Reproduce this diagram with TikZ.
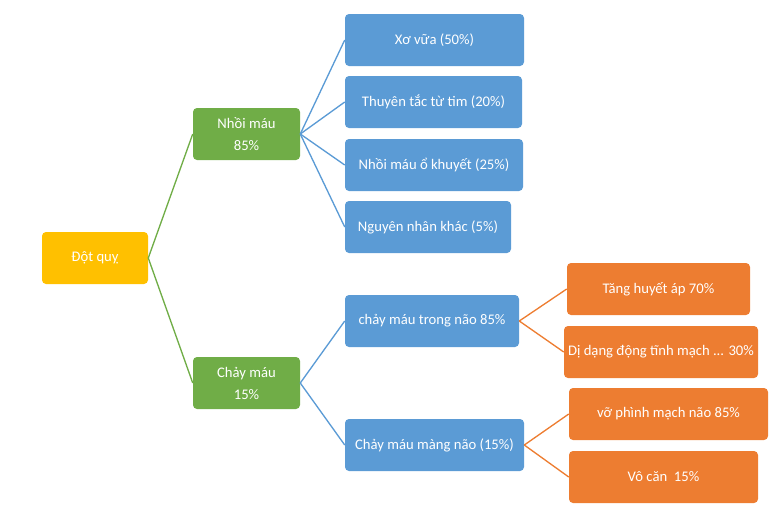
\documentclass[tikz,border=0pt]{standalone}
\usepackage{fontspec}
\setmainfont{Carlito}
\definecolor{cgold}{HTML}{FFC000}
\definecolor{cgreen}{HTML}{70AD47}
\definecolor{cblue}{HTML}{5B9BD5}
\definecolor{corange}{HTML}{ED7D31}
\begin{document}
\begin{tikzpicture}[x=0.75pt,y=-0.75pt,
  box/.style={rounded corners=3pt, text=white, align=center, inner sep=0pt,
    font=\fontsize{11}{16.5}\selectfont},
  goldbox/.style={box, fill=cgold},
  greenbox/.style={box, fill=cgreen},
  bluebox/.style={box, fill=cblue},
  orangebox/.style={box, fill=corange},
  gline/.style={draw=cgreen, line width=1pt},
  bline/.style={draw=cblue, line width=1pt},
  oline/.style={draw=corange, line width=1pt}]
\useasboundingbox (0,0) rectangle (780,508);
\node[goldbox, minimum width=106*0.75pt, minimum height=52*0.75pt] (root) at (95,258) {Đột quỵ};
\node[greenbox, minimum width=107*0.75pt, minimum height=52*0.75pt] (nm) at (246.5,134) {Nhồi máu\\85\%};
\node[greenbox, minimum width=107*0.75pt, minimum height=52*0.75pt] (cm) at (246.5,383) {Chảy máu\\15\%};
\node[bluebox, minimum width=179*0.75pt, minimum height=52*0.75pt] (b1) at (434.5,40) {Xơ vữa (50\%)};
\node[bluebox, minimum width=177*0.75pt, minimum height=52*0.75pt] (b2) at (433.5,102) {Thuyên tắc từ tim (20\%)};
\node[bluebox, minimum width=178*0.75pt, minimum height=52*0.75pt] (b3) at (434,165) {Nhồi máu ổ khuyết (25\%)};
\node[bluebox, minimum width=166*0.75pt, minimum height=52*0.75pt] (b4) at (428,227) {Nguyên nhân khác (5\%)};
\node[bluebox, minimum width=174*0.75pt, minimum height=52*0.75pt] (b5) at (432,321) {chảy máu trong não 85\%};
\node[bluebox, minimum width=179*0.75pt, minimum height=52*0.75pt] (b6) at (434.5,445) {Chảy máu màng não (15\%)};
\node[orangebox, minimum width=183*0.75pt, minimum height=52*0.75pt] (o1) at (658.5,289) {Tăng huyết áp 70\%};
\node[orangebox, minimum width=194*0.75pt, minimum height=52*0.75pt] (o2) at (661,352) {Dị dạng động tĩnh mạch ... 30\%};
\node[orangebox, minimum width=199*0.75pt, minimum height=52*0.75pt] (o3) at (668.5,414) {vỡ phình mạch não 85\%};
\node[orangebox, minimum width=189*0.75pt, minimum height=52*0.75pt] (o4) at (663.5,477) {Vô căn\ \ 15\%};
\draw[gline] (root.east) -- (nm.west);
\draw[gline] (root.east) -- (cm.west);
\draw[bline] (nm.east) -- (b1.west);
\draw[bline] (nm.east) -- (b2.west);
\draw[bline] (nm.east) -- (b3.west);
\draw[bline] (nm.east) -- (b4.west);
\draw[bline] (cm.east) -- (b5.west);
\draw[bline] (cm.east) -- (b6.west);
\draw[oline] (b5.east) -- (o1.west);
\draw[oline] (b5.east) -- (o2.west);
\draw[oline] (b6.east) -- (o3.west);
\draw[oline] (b6.east) -- (o4.west);
\end{tikzpicture}
\end{document}
